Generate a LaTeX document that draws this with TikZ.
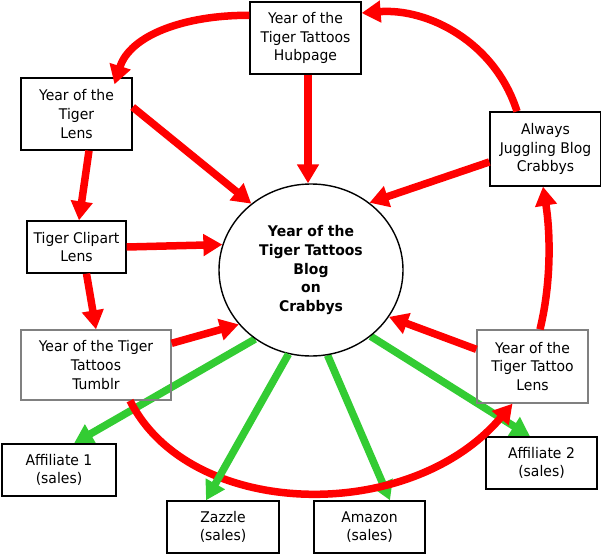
\documentclass[tikz,border=0pt]{standalone}
\usepackage{fontspec}
\setmainfont{DejaVu Sans}[FakeStretch=0.95]
\usetikzlibrary{arrows.meta,shapes.geometric,backgrounds}
\definecolor{arrred}{RGB}{255,0,0}
\definecolor{arrgreen}{RGB}{51,204,51}
\begin{document}
\begin{tikzpicture}[x=1pt,y=-1pt,
  box/.style={draw=black,line width=1.3pt,rectangle,inner sep=0pt,align=center,
    font=\fontsize{14.7}{18.6}\selectfont},
  graybox/.style={box,draw=black!50},
  redarrow/.style={draw=arrred,line width=7.5pt,-{Triangle[length=19pt,width=21pt]}},
  greenarrow/.style={draw=arrgreen,line width=7.5pt,-{Triangle[length=19pt,width=21pt]}},
]
\useasboundingbox (0,0) rectangle (601,553);

\node[box,minimum width=111pt,minimum height=72pt] (hub) at (305.5,38) {Year of the\\Tiger Tattoos\\Hubpage};
\node[box,minimum width=111pt,minimum height=72pt] (lens) at (76.5,114) {Year of the\\Tiger\\Lens};
\node[box,minimum width=99pt,minimum height=52pt] (clip) at (76.5,247) {Tiger Clipart\\Lens};
\node[graybox,minimum width=150pt,minimum height=70pt] (tumblr) at (96,365) {Year of the Tiger\\Tattoos\\Tumblr};
\node[box,minimum width=111pt,minimum height=74pt] (jug) at (545.5,149) {Always\\Juggling Blog\\Crabbys};
\node[graybox,minimum width=111pt,minimum height=73pt] (tlens) at (532.5,366.5) {Year of the\\Tiger Tattoo\\Lens};
\node[box,minimum width=114pt,minimum height=52pt] (aff1) at (59,470) {Affiliate 1\\(sales)};
\node[box,minimum width=112pt,minimum height=52pt] (zaz) at (223,527) {Zazzle\\(sales)};
\node[box,minimum width=111pt,minimum height=52pt] (amz) at (369.5,527) {Amazon\\(sales)};
\node[box,minimum width=111pt,minimum height=52pt] (aff2) at (541.5,463) {Affiliate 2\\(sales)};
\node[ellipse,draw=black,line width=1.4pt,minimum width=184pt,minimum height=172pt,inner sep=0pt,
  align=center,font=\bfseries\fontsize{14.7}{18.8}\selectfont] (blog) at (311,270)
  {Year of the\\Tiger Tattoos\\Blog\\on\\Crabbys};

\begin{pgfonlayer}{background}
\draw[greenarrow] (blog.231) -- ([xshift=15pt]aff1.north);
\draw[greenarrow] (blog.281) -- ([xshift=20.5pt]amz.north);
\draw[greenarrow] (blog.312) -- ([xshift=-11.5pt]aff2.north);
\end{pgfonlayer}

% red connectors
\draw[redarrow] (hub.158) .. controls (185,15) and (130,35) .. ([xshift=38pt,yshift=-7pt]lens.north);
\draw[redarrow] (lens.7) -- (blog.132);
\draw[redarrow] ([xshift=2.5pt]hub.south) -- ([xshift=2.5pt]hub.south |- blog.north);
\draw[redarrow] ([xshift=-28.5pt]jug.north) .. controls (495,42) and (428,8) .. (hub.24);
\draw[redarrow] (jug.193) -- (blog.49);
\draw[redarrow] ([xshift=12.5pt]lens.south) -- ([xshift=2.5pt]clip.north);
\draw[redarrow] (clip.east) -- (blog.164);
\draw[redarrow] ([xshift=10pt]clip.south) -- (tumblr.north);
\draw[redarrow] (tumblr.16) -- (blog.217);
\draw[redarrow] ([xshift=7.5pt]tlens.north) .. controls (552,280) and (550,230) .. ([xshift=-2.5pt]jug.south);
\draw[redarrow] (tlens.163) -- (blog.329);
\draw[redarrow] ([xshift=34pt]tumblr.south) .. controls (190,520) and (410,525) .. ([xshift=-20pt]tlens.south);

\draw[greenarrow] (blog.255.5) -- ([xshift=-17pt]zaz.north);
\end{tikzpicture}
\end{document}
